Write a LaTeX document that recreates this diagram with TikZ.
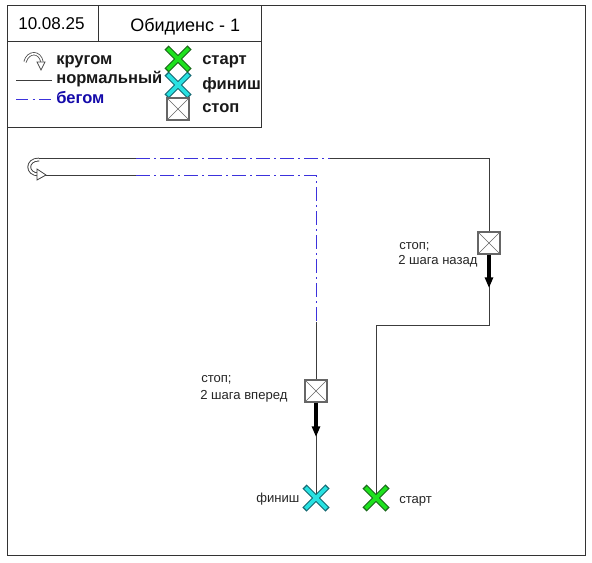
\documentclass[tikz,border=0pt]{standalone}
\usepackage{fontspec}
\setmainfont{Liberation Sans}
\usetikzlibrary{arrows.meta}
\definecolor{runblue}{RGB}{60,50,220}
\definecolor{legblue}{RGB}{20,10,170}
\definecolor{greenF}{RGB}{30,225,30}
\definecolor{greenD}{RGB}{25,105,25}
\definecolor{cyanF}{RGB}{40,225,225}
\definecolor{cyanD}{RGB}{20,105,115}
\definecolor{lineg}{RGB}{60,60,60}
\tikzset{
  px/.style={x=0.75pt,y=-0.75pt},
  frameline/.style={draw=black!80,line width=0.75pt},
  pathline/.style={draw=lineg,line width=0.75pt},
  runline/.style={draw=runblue,line width=0.75pt,dash pattern=on 10.5pt off 3pt on 1.5pt off 3pt},
  lbl/.style={inner sep=0pt,anchor=base west,font=\fontsize{9.8pt}{11pt}\selectfont,text=black!85},
  leg/.style={inner sep=0pt,anchor=base west,font=\fontsize{12.4pt}{14pt}\selectfont\bfseries,text=black!90},
  head/.style={inner sep=0pt,anchor=base west,font=\fontsize{12.8pt}{15pt}\selectfont,text=black},
  stopbox/.style={draw=black!60,fill=white,line width=1pt,minimum size=16.5pt,inner sep=0pt,
    path picture={\draw[black!60,line width=0.5pt] (path picture bounding box.north west)--(path picture bounding box.south east)
      (path picture bounding box.north east)--(path picture bounding box.south west);}},
  thick arrow/.style={draw=black,line width=2.5pt,-{Triangle[length=8pt,width=6pt]}},
}
\newcommand{\crossmark}[3]{%
  \draw[#3,line width=4.4pt] (#1)++(-11.5,-11.5)--++(23,23) (#1)++(11.5,-11.5)--++(-23,23);
  \draw[#2,line width=2.8pt] (#1)++(-10.5,-10.5)--++(21,21) (#1)++(10.5,-10.5)--++(-21,21);
}
\begin{document}
\begin{tikzpicture}[px]
\useasboundingbox (0,0) rectangle (592,563);
\fill[white] (0,0) rectangle (592,563);
% frame and legend
\draw[frameline] (7,6) rectangle (585,555);
\draw[frameline] (7,6) rectangle (261,128);
\draw[frameline] (7,42) -- (261,42);
\draw[frameline] (98,6) -- (98,42);
\node[head] (date) at (18,30) {10.08.25};
\node[head,font=\fontsize{13.5pt}{15pt}\selectfont] (title) at (130,32) {Обидиенс - 1};
% legend
\draw[black!70,line width=2.4pt] (25,62) .. controls (28,51) and (40,51) .. (42,62);
\draw[white,line width=1.2pt] (25,62) .. controls (28,51) and (40,51) .. (42,62);
\draw[fill=white,draw=black!70,line width=0.6pt] (37,62)--(45,62)--(41,70)--cycle;
\node[leg] (l1) at (56,65) {кругом};
\coordinate (n1) at (16,81);
\coordinate (n2) at (52,81);
\draw[pathline] (n1) -- (n2);
\node[leg] (l2) at (56,84) {нормальный};
\coordinate (r1) at (16,100);
\coordinate (r2) at (52,100);
\draw[draw=runblue,line width=0.75pt,dash pattern=on 9pt off 3.5pt on 1.5pt off 3.5pt] (r1) -- (r2);
\node[leg,text=legblue] (l3) at (56,104) {бегом};
\coordinate (ls) at (178,59);
\coordinate (lf) at (178,85);
\crossmark{lf}{cyanF}{cyanD}
\crossmark{ls}{greenF}{greenD}
\node[stopbox] (lstop) at (178,109) {};
\node[leg] (t1) at (202,65) {старт};
\node[leg] (t2) at (202,90) {финиш};
\node[leg] (t3) at (202,113) {стоп};
% route corners
\coordinate (start) at (376,498);
\coordinate (finish) at (316,498);
\coordinate (c1) at (376,325);
\coordinate (c2) at (489,325);
\coordinate (c3) at (489,159);
\coordinate (c4) at (38,159);
\coordinate (c5) at (44,175);
\coordinate (c6) at (316,175);
\coordinate (d1) at (136,159);
\coordinate (d2) at (330,159);
\coordinate (d3) at (136,175);
\coordinate (d4) at (316,322);
\draw[pathline] (start) -- (c1) -- (c2) -- (c3) -- (d2);
\draw[pathline] (d1) -- (c4);
\draw[pathline] (c5) -- (d3);
\draw[pathline] (d4) -- (finish);
\draw[runline] (d1) -- (d2);
\draw[runline] (d3) -- (c6) -- (d4);
% u-turn
\draw[black!75,line width=2.8pt] (39,159.5) .. controls (26,159.5) and (26,174.5) .. (39,174.5);
\draw[white,line width=1.4pt] (39,159.5) .. controls (26,159.5) and (26,174.5) .. (39,174.5);
\draw[fill=white,draw=black!75,line width=0.6pt] (37,169)--(46,175)--(37,180)--cycle;
% stops
\node[stopbox] (s1) at (489,243) {};
\node[stopbox] (s2) at (316,391) {};
\coordinate (a1) at (489,288);
\coordinate (a2) at (316,437);
\draw[thick arrow] (s1.south) -- (a1);
\draw[thick arrow] (s2.south) -- (a2);
% marks
\crossmark{start}{greenF}{greenD}
\crossmark{finish}{cyanF}{cyanD}
% labels
\node[lbl] (q1) at (399,249) {стоп;};
\node[lbl] (q2) at (398,264) {2 шага назад};
\node[lbl] (q3) at (201,382) {стоп;};
\node[lbl] (q4) at (200,399) {2 шага вперед};
\node[lbl] (q5) at (256,502) {финиш};
\node[lbl] (q6) at (399,503) {старт};
\end{tikzpicture}
\end{document}
